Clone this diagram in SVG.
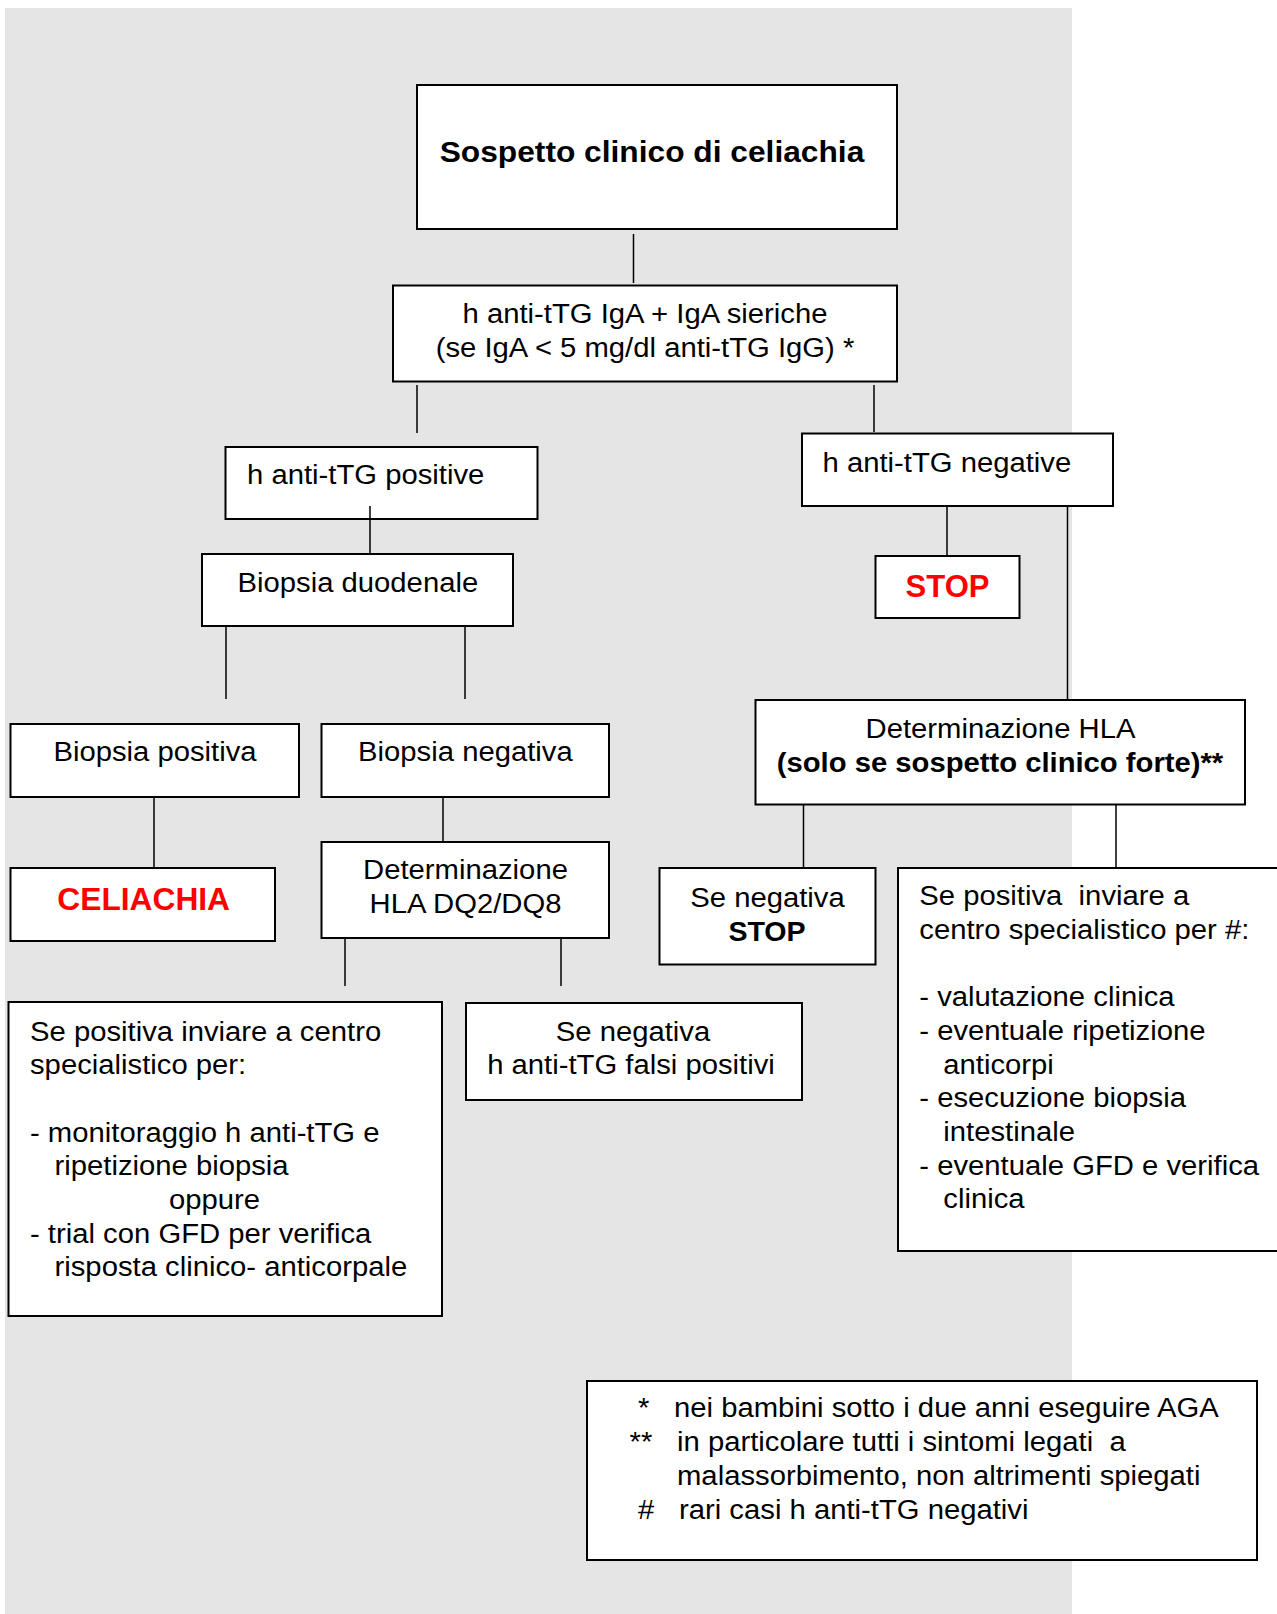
<svg xmlns="http://www.w3.org/2000/svg" width="1277" height="1614" viewBox="0 0 1277 1614">
<style>
.t{font-family:"Liberation Sans",Arial,Helvetica,sans-serif;font-size:28px;fill:#000;white-space:pre}
.b{font-weight:bold}
.red{fill:#ff0000}
.m{text-anchor:middle}
.box{fill:#fff;stroke:#000;stroke-width:2}
.c{stroke:#000;stroke-width:1.5;fill:none}
</style>
<rect x="5" y="8" width="1067" height="1606" fill="#e5e5e5"/>
<g id="connectors">
<line class="c" x1="633.5" y1="234" x2="633.5" y2="283"/>
<line class="c" x1="417" y1="385" x2="417" y2="433"/>
<line class="c" x1="874" y1="385" x2="874" y2="432"/>
<line class="c" x1="370" y1="506" x2="370" y2="554"/>
<line class="c" x1="226" y1="626" x2="226" y2="699"/>
<line class="c" x1="465" y1="626" x2="465" y2="699"/>
<line class="c" x1="154" y1="797" x2="154" y2="868"/>
<line class="c" x1="443" y1="797" x2="443" y2="842"/>
<line class="c" x1="345" y1="938" x2="345" y2="986"/>
<line class="c" x1="561" y1="938" x2="561" y2="986"/>
<line class="c" x1="947" y1="506" x2="947" y2="556"/>
<line class="c" x1="1067.5" y1="506" x2="1067.5" y2="700"/>
<line class="c" x1="803.5" y1="805" x2="803.5" y2="868"/>
<line class="c" x1="1116" y1="805" x2="1116" y2="868"/>
</g>
<g id="n-sospetto">
<rect class="box" x="417" y="85" width="480" height="144"/>
<text class="t b m" style="font-size:29px" transform="translate(652 161.5) scale(1.094 1)">Sospetto clinico di celiachia</text>
</g>
<g id="n-test">
<rect class="box" x="393" y="285.5" width="504" height="96"/>
<text class="t m" transform="translate(645 323) scale(1.045 1)">h anti-tTG IgA + IgA sieriche</text>
<text class="t m" transform="translate(645 357) scale(1.045 1)">(se IgA &lt; 5 mg/dl anti-tTG IgG) *</text>
</g>
<g id="n-positive">
<rect class="box" x="225.5" y="447" width="312" height="72"/>
<line class="c" x1="370" y1="506" x2="370" y2="519"/>
<text class="t" transform="translate(247 484) scale(1.045 1)">h anti-tTG positive</text>
</g>
<g id="n-duodenale">
<rect class="box" x="202" y="554" width="311" height="72"/>
<text class="t" transform="translate(237.5 592) scale(1.045 1)">Biopsia duodenale</text>
</g>
<g id="n-negative">
<rect class="box" x="802" y="433.5" width="311" height="72.5"/>
<text class="t" transform="translate(822.5 471.5) scale(1.045 1)">h anti-tTG negative</text>
</g>
<g id="n-stop1">
<rect class="box" x="875.5" y="556" width="144" height="62"/>
<text class="t b red m" style="font-size:31px" transform="translate(947.5 597)">STOP</text>
</g>
<g id="n-biopos">
<rect class="box" x="10.5" y="724" width="288.5" height="73"/>
<text class="t m" transform="translate(155 761) scale(1.045 1)">Biopsia positiva</text>
</g>
<g id="n-bioneg">
<rect class="box" x="321.5" y="724" width="287.5" height="73"/>
<text class="t m" transform="translate(465.4 761) scale(1.045 1)">Biopsia negativa</text>
</g>
<g id="n-celiachia">
<rect class="box" x="10.5" y="868" width="264.5" height="73"/>
<text class="t b red m" style="font-size:30.5px" transform="translate(143.7 909.5) scale(1.04 1)">CELIACHIA</text>
</g>
<g id="n-dq">
<rect class="box" x="321.5" y="842" width="287.5" height="96"/>
<text class="t m" transform="translate(465.5 878.5) scale(1.045 1)">Determinazione</text>
<text class="t m" transform="translate(465.5 913) scale(1.045 1)">HLA DQ2/DQ8</text>
</g>
<g id="n-hla">
<rect class="box" x="755.5" y="700" width="489.5" height="104.5"/>
<text class="t m" transform="translate(1000.5 738) scale(1.045 1)">Determinazione HLA</text>
<text class="t b m" transform="translate(1000 772) scale(1.044 1)">(solo se sospetto clinico forte)**</text>
</g>
<g id="n-hlaneg">
<rect class="box" x="659.5" y="868" width="216" height="96.5"/>
<text class="t m" transform="translate(767.5 906.5) scale(1.045 1)">Se negativa</text>
<text class="t b m" transform="translate(767 940.5) scale(1.02 1)">STOP</text>
</g>
<g id="n-hlapos">
<rect class="box" x="898" y="868" width="400" height="383"/>
<text class="t" transform="translate(919.3 905) scale(1.045 1)">Se positiva  inviare a</text>
<text class="t" transform="translate(919.3 938.7) scale(1.045 1)">centro specialistico per #:</text>
<text class="t" transform="translate(919.3 1006.1) scale(1.045 1)">- valutazione clinica</text>
<text class="t" transform="translate(919.3 1039.8) scale(1.045 1)">- eventuale ripetizione</text>
<text class="t" transform="translate(943.3 1073.5) scale(1.045 1)">anticorpi</text>
<text class="t" transform="translate(919.3 1107.2) scale(1.045 1)">- esecuzione biopsia</text>
<text class="t" transform="translate(943.3 1140.9) scale(1.045 1)">intestinale</text>
<text class="t" transform="translate(919.3 1174.6) scale(1.045 1)">- eventuale GFD e verifica</text>
<text class="t" transform="translate(943.3 1208.3) scale(1.045 1)">clinica</text>
</g>
<g id="n-dqpos">
<rect class="box" x="8.5" y="1002" width="433.5" height="314"/>
<text class="t" transform="translate(30 1040.5) scale(1.045 1)">Se positiva inviare a centro</text>
<text class="t" transform="translate(30 1074.2) scale(1.045 1)">specialistico per:</text>
<text class="t" transform="translate(30 1141.6) scale(1.045 1)">- monitoraggio h anti-tTG e</text>
<text class="t" transform="translate(54.5 1175.3) scale(1.045 1)">ripetizione biopsia</text>
<text class="t" transform="translate(169 1209) scale(1.045 1)">oppure</text>
<text class="t" transform="translate(30 1242.7) scale(1.045 1)">- trial con GFD per verifica</text>
<text class="t" transform="translate(54.5 1276.4) scale(1.045 1)">risposta clinico- anticorpale</text>
</g>
<g id="n-dqneg">
<rect class="box" x="466" y="1003" width="336" height="97"/>
<text class="t m" transform="translate(633 1040.5) scale(1.045 1)">Se negativa</text>
<text class="t m" transform="translate(631 1074.2) scale(1.045 1)">h anti-tTG falsi positivi</text>
</g>
<g id="n-notes">
<rect class="box" x="587" y="1381" width="670" height="179"/>
<text class="t" transform="translate(638 1417) scale(1.045 1)">*</text>
<text class="t" transform="translate(674 1417) scale(1.045 1)">nei bambini sotto i due anni eseguire AGA</text>
<text class="t" transform="translate(629.5 1451) scale(1.045 1)">**</text>
<text class="t" transform="translate(677 1451) scale(1.045 1)">in particolare tutti i sintomi legati  a</text>
<text class="t" transform="translate(677 1485) scale(1.045 1)">malassorbimento, non altrimenti spiegati</text>
<text class="t" transform="translate(638 1519) scale(1.045 1)">#</text>
<text class="t" transform="translate(679 1519) scale(1.045 1)">rari casi h anti-tTG negativi</text>
</g>
</svg>
